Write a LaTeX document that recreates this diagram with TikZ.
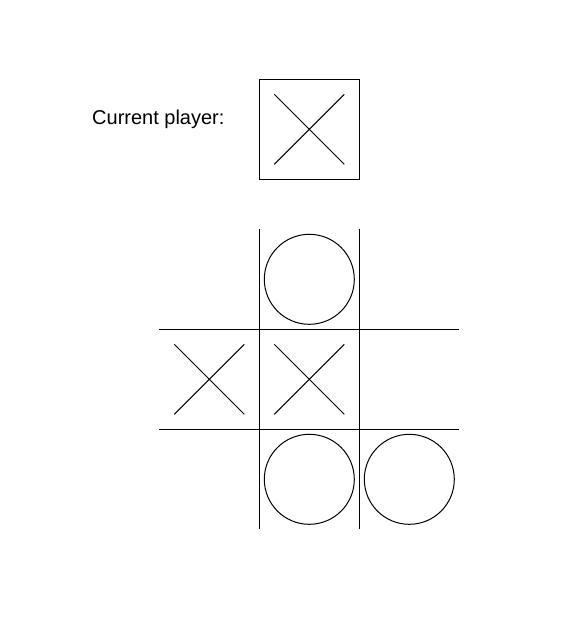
\documentclass[tikz,border=0pt]{standalone}
\usepackage{fontspec}
\setmainfont{Liberation Sans}
\begin{document}
\begin{tikzpicture}[x=1pt,y=-1pt,line width=1pt,
  xmark/.style={line width=1pt},
  omark/.style={line width=1pt},
  gridline/.style={line width=1pt}]
\useasboundingbox (0,0) rectangle (570,638);
\node[anchor=base west,inner sep=0pt,font=\fontsize{20}{24}\selectfont] (label) at (91.7,124.7) {Current player:};
% current player box
\draw[gridline] (259.3,79.3) rectangle (359.3,179.3);
\draw[xmark] (274.3,94.3) -- (344.3,164.3) (344.3,94.3) -- (274.3,164.3);
% grid
\draw[gridline] (259.3,229.3) -- (259.3,529.3);
\draw[gridline] (359.3,229.3) -- (359.3,529.3);
\draw[gridline] (159.3,329.3) -- (459.3,329.3);
\draw[gridline] (159.3,429.3) -- (459.3,429.3);
% marks
\draw[omark] (309.3,279.3) circle[radius=45];
\draw[omark] (309.3,479.3) circle[radius=45];
\draw[omark] (409.3,479.3) circle[radius=45];
\draw[xmark] (174.3,344.3) -- (244.3,414.3) (244.3,344.3) -- (174.3,414.3);
\draw[xmark] (274.3,344.3) -- (344.3,414.3) (344.3,344.3) -- (274.3,414.3);
\end{tikzpicture}
\end{document}
